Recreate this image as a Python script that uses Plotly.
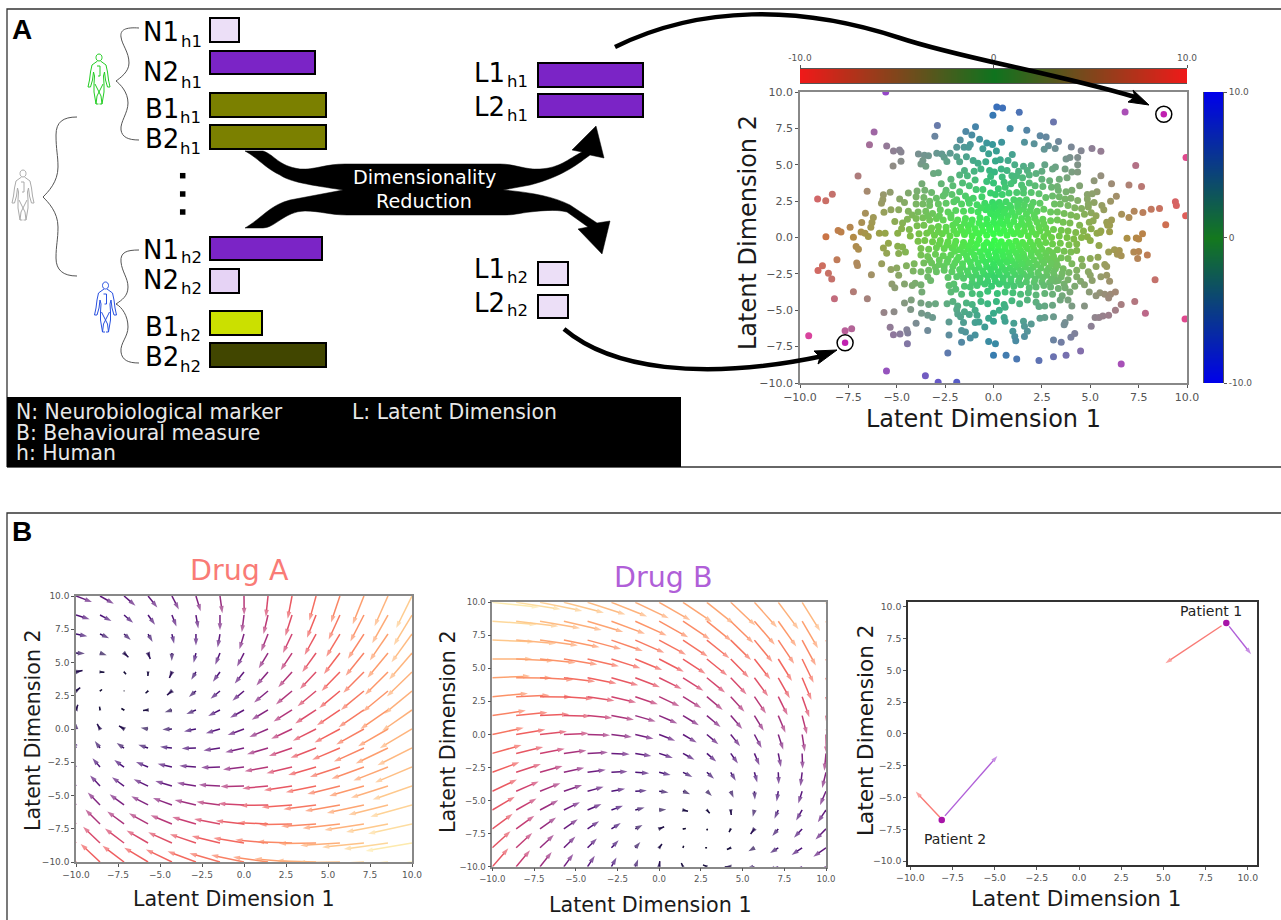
import plotly.graph_objects as go
from plotly.colors import sample_colorscale
import numpy as np

W, H = 1281, 920
FONT = "DejaVu Sans"

# ---------- Panel A: marker bars ----------
BAR_NAMES = ["N1", "N2", "B1", "B2", "N1", "N2", "B1", "B2"]
BAR_SUBS = ["h1", "h1", "h1", "h1", "h2", "h2", "h2", "h2"]
BAR_LENGTHS = [29, 105, 116, 116, 112, 29, 52, 116]
BAR_COLORS = ["#ecdff7", "#7b24c6", "#7b8000", "#7b8000", "#7b24c6", "#e6d3f5", "#cbe000", "#414600"]
LATENT_NAMES = ["L1", "L2", "L1", "L2"]
LATENT_SUBS = ["h1", "h1", "h2", "h2"]
LATENT_LENGTHS = [105, 105, 30, 30]
LATENT_COLORS = ["#7b24c6", "#7b24c6", "#ecdff7", "#ecdff7"]
LEGEND_LINES = ["N: Neurobiological marker", "B: Behavioural measure", "h: Human"]

# ---------- Panel A: latent scatter (x, y) ----------
LATENT_TOP = [(-5.57,10.0),(.17,8.97),(.47,8.9),(-.03,8.4),(1.33,8.6),(6.8,8.63),(3.1,7.94),(-2.9,7.7),(-.93,7.62),(.86,7.5),
 (1.72,7.37),(-1.43,7.28),(-1.12,7.05),(-3.03,6.96),(2.41,7.0),(2.72,6.91),(-1.72,6.7),(-.72,6.75),(-1.2,6.4),(-.35,6.5),
 (-.05,6.4),(.42,6.55),(3.36,6.6),(1.6,6.55),(2.1,6.45),(2.84,6.3),(3.19,6.11),(2.62,6.06),(4.02,6.22),(4.53,5.97),
 (5.09,6.11),(5.55,5.93),(-1.9,6.2),(-1.52,6.2),(-1.29,6.2),(-.55,6.1),(.15,5.95),(-.25,5.75),(.97,5.7),(-2.24,5.79),
 (-2.93,5.79),(-2.67,5.74),(-2.55,5.51),(-3.88,5.74),(-3.57,5.65),(-3.36,5.61),(-2.41,5.22),(-1.9,5.55),(-1.4,5.55)]
LATENT_UPPER = [(-1.75,5.2),(-1.05,5.3),(-.8,5.1),(-.4,5.2),(.1,5.25),(.35,5.35),(.75,5.3),(1.1,5.0),(1.55,4.9),(1.95,4.95),
 (2.65,5.0),(3.2,4.85),(3.05,4.7),(3.75,5.4),(3.95,5.5),(4.35,5.5),(4.35,5.0),(3.7,4.7),(4.05,4.5),(4.35,4.5),
 (-3.75,5.05),(-3.5,4.9),(-3.65,5.3),(-3.1,4.4),(-2.85,4.45),(-.2,4.6),(.05,4.5),(-.65,4.7),(-1.0,4.55),(-1.5,4.6),
 (-1.75,4.3),(-1.35,4.25),(-.95,3.95),(.4,4.7),(.7,4.6),(1.3,4.55),(1.75,4.6),(1.2,4.25),(1.5,4.1),(1.85,4.3),
 (1.05,3.9),(2.2,4.4),(2.5,4.55),(2.9,3.9),(3.4,4.0),(3.8,4.1),(-2.2,4.0),(-2.7,3.7),(-3.7,3.7),(-2.1,3.55),
 (-2.45,3.25),(-1.6,3.75),(-.35,3.85),(0,3.75),(.55,3.8),(.25,3.35),(.6,3.45),(-1.25,3.55),(-.9,3.3),(-.55,3.3),
 (1.45,3.6),(1.85,3.75),(2.15,3.55),(2.55,3.5),(3.0,3.45),(3.35,3.25),(3.75,3.15),(4.05,3.25),(4.45,3.55),(-3.2,3.1),
 (-3.55,3.25),(-3.95,3.2),(-4.4,3.05),(-4.0,2.8),(-3.6,2.75),(-2.95,2.7),(-2.6,2.85),(-2.15,2.95),(-1.75,3.15),(-1.45,2.85),
 (-1.05,2.7),(-.6,2.8),(-.15,3.05),(.1,2.95),(.45,2.95),(.8,3.05),(1.2,3.1),(1.55,3.05),(1.95,3.1),(2.35,3.0),
 (2.7,2.75),(3.05,2.85),(3.4,2.8),(3.7,2.65),(4.0,2.7),(4.35,2.55),(4.85,2.95),(4.85,2.65),(5.35,3.15),(5.2,2.4)]
LATENT_MIDDLE = [(-4.85,2.65),(-4.6,2.4),(-4.0,2.3),(-3.65,2.3),(-3.3,2.2),(-2.85,2.3),(-2.45,2.35),(-2.05,2.45),(-1.65,2.3),(-1.25,2.35),
 (-.85,2.25),(-.45,2.35),(-.05,2.4),(.3,2.4),(.65,2.45),(1.05,2.6),(1.35,2.55),(1.7,2.6),(2.05,2.4),(2.4,2.35),
 (3.15,2.3),(3.45,2.3),(3.85,2.2),(4.2,2.05),(4.55,2.0),(4.9,2.1),(5.05,1.7),(5.3,1.5),(-5.3,1.9),(-4.9,1.9),
 (-4.4,1.8),(-4.2,1.55),(-3.9,1.75),(-3.5,1.8),(-3.15,1.65),(-2.75,1.9),(-2.35,1.75),(-1.95,1.85),(-1.55,1.8),(-1.15,1.85),
 (-.8,1.75),(-.4,1.9),(-.05,1.95),(.3,1.9),(.6,1.95),(.9,2.05),(1.25,2.1),(1.55,1.95),(1.9,1.85),(2.25,1.8),
 (2.6,1.95),(2.95,1.75),(3.3,1.75),(3.65,1.65),(4.0,1.55),(4.3,1.45),(4.7,1.6),(-5.1,1.1),(-4.7,1.0),(-4.45,1.25),
 (-4.0,1.3),(-3.65,1.35),(-3.3,1.2),(-2.95,1.3),(-2.6,1.2),(-2.2,1.35),(-1.85,1.2),(-1.45,1.3),(-1.1,1.2),(-.7,1.35),
 (-.35,1.25),(.05,1.4),(.4,1.4),(.75,1.5),(1.1,1.45),(1.45,1.3),(1.8,1.25),(2.15,1.3),(2.55,1.25),(2.95,1.15),
 (3.3,1.2),(3.6,1.05),(3.95,1.0),(4.45,.85),(4.95,1.05),(5.15,1.15),(5.85,1.05),(5.9,.85),(-4.75,.6),(-4.95,.3),
 (-4.35,.55),(-3.95,.8),(-3.6,.85),(-3.2,.65),(-2.85,.75),(-2.45,.7),(-2.1,.85),(-1.7,.7),(-1.3,.75),(-.95,.6),
 (-.6,.8),(-.2,.7),(.15,.85),(.5,.9),(.85,.85),(1.25,.75),(1.6,.8),(1.95,.65),(2.35,.7),(2.7,.65),
 (3.1,.55),(3.5,.5),(3.85,.45),(4.25,.35),(4.65,.45),(5.05,.6),(5.35,.3),(5.55,.45),(6.0,.4),(-4.3,.1),
 (-3.85,.25),(-3.45,.3),(-3.05,.15),(-2.65,.25),(-2.25,.1),(-1.9,.25),(-1.5,.2),(-1.1,.1),(-.75,.25),(-.35,.15),
 (0,.25),(.35,.3),(.7,.15),(1.05,.25),(1.4,.2),(1.8,.1),(2.2,.2),(2.6,.05),(3.0,.0),(3.4,.1),
 (3.8,.0),(4.15,-.1),(4.55,.0),(4.85,.05),(5.0,-.2),(-3.9,-.25),(-3.55,-.2),(-3.15,-.3),(-2.75,-.2),(-2.35,-.3),
 (-1.95,-.25),(-1.55,-.35),(-1.15,-.3),(-.75,-.15),(-.35,-.35),(.05,-.2),(.4,-.3),(.8,-.35),(1.15,-.25),(1.5,-.35),
 (1.9,-.3),(2.3,-.25),(2.7,-.35),(3.05,-.45),(3.45,-.4),(3.9,-.5),(4.3,-.45),(-3.75,-.75),(-3.35,-.8),(-2.95,-.7),
 (-2.55,-.75),(-2.15,-.7),(-1.75,-.85),(-1.3,-.8),(-.95,-.7),(-.5,-.8),(-.1,-.7),(.25,-.85),(.6,-.75),(1.0,-.85),
 (1.4,-.9),(1.75,-.75),(2.1,-.85),(2.5,-.8),(2.85,-.9),(3.3,-.85),(3.65,-.95),(4.0,-1.0),(4.3,-.9),(5.45,-.55),
 (5.95,-1.0),(6.25,-.85),(6.4,-1.15)]
LATENT_LOWER = [(-3.75,-1.2),(-3.4,-1.3),(-3.0,-1.15),(-2.6,-1.25),(-2.2,-1.2),(-1.8,-1.35),(-1.4,-1.25),(-1.0,-1.2),(-.6,-1.3),(-.25,-1.2),
 (.15,-1.3),(.5,-1.25),(.85,-1.35),(1.25,-1.3),(1.6,-1.4),(1.95,-1.25),(2.4,-1.3),(2.75,-1.35),(3.1,-1.3),(3.5,-1.4),
 (3.85,-1.45),(4.55,-1.5),(5.0,-1.45),(5.4,-1.35),(5.75,-1.85),(-4.5,-1.95),(-4.1,-1.8),(-3.6,-1.75),(-3.2,-1.75),(-2.8,-1.85),
 (-2.4,-1.7),(-2.0,-1.75),(-1.6,-1.8),(-1.2,-1.7),(-.8,-1.75),(-.4,-1.7),(0,-1.85),(.35,-1.75),(.7,-1.7),(1.1,-1.85),
 (1.45,-1.8),(1.85,-1.75),(2.25,-1.85),(2.6,-1.75),(3.0,-1.8),(3.3,-1.9),(4.05,-1.8),(4.6,-1.95),(5.3,-2.0),(-4.15,-2.3),
 (-3.75,-2.35),(-3.35,-2.25),(-2.95,-2.35),(-2.55,-2.25),(-2.15,-2.35),(-1.75,-2.2),(-1.35,-2.3),(-.95,-2.25),(-.55,-2.3),(-.15,-2.2),
 (.25,-2.35),(.6,-2.25),(1.0,-2.3),(1.4,-2.3),(1.9,-2.25),(2.3,-2.4),(2.75,-2.3),(3.1,-2.4),(3.55,-2.45),(3.9,-2.4),
 (4.3,-2.25),(4.9,-2.35),(5.0,-2.6),(5.55,-2.7),(5.85,-2.6),(-3.4,-2.7),(-3.25,-2.95),(-2.35,-2.75),(-1.9,-2.7),(-1.55,-2.8),
 (-1.1,-2.75),(-.7,-2.8),(-.3,-2.65),(.05,-2.75),(.5,-2.8),(.9,-2.85),(1.35,-2.75),(1.75,-2.7),(2.15,-2.85),(2.55,-2.75),
 (3.0,-2.85),(3.35,-2.95),(3.85,-2.9),(4.5,-3.0),(5.1,-2.95),(-5.25,-3.2),(-5.1,-3.45),(-4.6,-3.2),(-4.2,-3.3),(-4.05,-3.15),
 (-3.75,-3.25),(-3.7,-3.75),(-2.3,-3.3),(-2.05,-3.2),(-1.95,-3.55),(-1.5,-3.35),(-1.2,-3.4),(-.85,-3.3),(-.45,-3.2),(-.1,-3.35),
 (.3,-3.2),(.7,-3.3),(1.05,-3.35),(1.4,-3.25),(1.85,-3.45),(2.2,-3.4),(2.6,-3.3),(2.95,-3.4),(3.35,-3.5),(3.7,-3.45),
 (4.2,-3.35),(4.7,-3.25),(-2.2,-3.75),(-1.65,-3.9),(-1.1,-3.85),(-.7,-3.9),(-.3,-3.7),(.2,-3.85),(.6,-3.75),(1.0,-3.8),
 (1.4,-3.9),(1.8,-3.8),(2.2,-3.95),(2.65,-3.85),(3.05,-3.9),(3.55,-4.0),(3.95,-3.75),(4.95,-3.75),(5.3,-4.0),(5.5,-3.8),
 (5.75,-3.9),(6.05,-3.9),(6.3,-3.75),(5.95,-4.15),(-4.6,-4.5),(-4.25,-4.3),(-3.75,-4.5),(-3.35,-4.6),(-3.0,-4.55),(-2.4,-4.55),
 (-2.1,-4.4),(-1.85,-4.7),(-1.4,-4.5),(-1.1,-4.6),(-.65,-4.4),(-.3,-4.55),(.15,-4.4),(.55,-4.6),(.95,-4.35),(1.35,-4.55),
 (1.75,-4.3),(2.2,-4.45),(2.35,-4.75),(2.65,-4.7),(3.05,-4.65),(3.45,-4.3),(3.85,-4.3),(4.05,-4.7),(4.7,-4.7)]
LATENT_BOTTOM = [(-5.66,-5.15),(-5.14,-5.1),(-4.28,-4.95),(-3.72,-5.2),(-3.4,-5.35),(-3.15,-5.5),(-1.9,-4.95),(-1.85,-5.25),(-1.7,-5.45),(-1.5,-5.1),
 (-1.25,-5.3),(-.95,-5.0),(-.85,-5.35),(.0,-5.2),(.3,-5.0),(.6,-4.8),(-.25,-5.55),(.55,-5.5),(.6,-5.75),(1.05,-5.9),
 (1.55,-5.75),(1.6,-6.1),(1.95,-5.95),(2.4,-5.55),(2.65,-5.5),(3.1,-5.45),(3.95,-5.5),(3.7,-5.85),(3.65,-6.0),(-4.0,-5.9),
 (-2.3,-5.8),(-1.55,-5.85),(-.95,-5.85),(-.75,-5.8),(-.45,-6.15),(.0,-5.75),(1.0,-6.45),(1.75,-6.45),(1.6,-6.8),(1.1,-6.8),
 (1.15,-7.1),(5.05,-6.1),(5.25,-5.5),(5.45,-5.5),(5.65,-5.4),(5.95,-5.35),(6.3,-5.0),(6.6,-4.6),(7.3,-4.4),(7.85,-5.2),
 (9.9,-5.6),(8.35,-2.9),(3.1,-7.05),(3.5,-7.2),(4.0,-6.85),(4.2,-6.6),(3.1,-8.2),(3.75,-8.1),(4.5,-7.8),(6.6,-8.7),
 (-.25,-7.15),(.1,-7.3),(0,-8.1),(.65,-8.1),(1.2,-8.35),(2.35,-8.45),(-1.65,-7.2),(-1.2,-6.9),(-.95,-6.7),(-1.45,-6.5),
 (-1.65,-6.4),(-2.3,-6.7),(-3.4,-6.4),(-2.36,-7.94),(-1.9,-9.95),(-2.86,-9.95),(-3.52,-9.5),(-5.53,-9.18),(-4.45,-7.3),(-4.43,-6.57),
 (-4.48,-6.34),(-4.83,-6.64),(-5.17,-6.68),(-5.34,-6.16),(-7.33,-6.27),(-7.67,-6.41),(-9.55,-6.75)]
LATENT_LEFT = [(-9.09,2.65),(-8.67,2.52),(-8.33,2.97),(-7.0,4.23),(-6.53,3.18),(-5.79,2.36),(-5.69,2.93),(-5.72,2.59),(-5.34,3.11),(-5.66,1.74),
 (-6.62,1.67),(-6.81,1.03),(-6.21,1.37),(-6.28,1.03),(-6.34,.71),(-7.41,.71),(-8.03,.48),(-7.88,.37),(-8.66,.05),(-6.84,.37),
 (-6.64,.3),(-6.47,.07),(-7.24,.02),(-7.1,-.62),(-6.98,-.8),(-5.9,.3),(-5.6,.3),(-5.43,-.39),(-5.69,-.73),(-5.52,-1.08),
 (-7.07,-1.76),(-7.03,-1.92),(-5.78,-1.81),(-8.09,-1.53),(-8.84,-1.95),(-9.07,-2.27),(-8.53,-2.45),(-8.36,-2.86),(-6.31,-2.56),(-7.24,-3.73),
 (-8.22,-4.21),(-6.52,-4.21),(-6.17,7.25),(-6.41,6.38),(-5.52,6.29),(-5.17,5.95),(-4.86,6.02),(-4.78,5.88),(-5.19,4.92),(-4.78,5.24),
 (-4.95,-.6),(-4.7,-.65),(-4.9,-1.1),(-4.55,-1.0),(-5.3,-2.2),(-5.0,-2.1),(-4.9,-2.6)]
LATENT_RIGHT = [(9.93,1.5),(8.9,.87),(8.58,2.0),(8.15,1.95),(9.4,2.45),(9.45,2.2),(7.72,1.72),(7.27,1.8),(7.0,1.38),(6.9,-.05),
 (6.35,2.83),(6.1,3.7),(7.0,3.6),(7.65,3.5),(7.35,4.95),(5.55,4.25),(5.2,3.9),(9.95,5.5),(7.38,-.03),(7.7,.25),
 (5.5,.35),(6.0,.85),(6.1,1.2),(6.5,-.9),(6.6,-1.25),(7.25,-1.0),(7.5,-.97),(7.45,-1.45),(7.95,-1.2),(5.85,-2.0),
 (6.05,2.5),(6.62,1.6),(5.7,1.9),(5.6,2.2),(4.9,2.3),(5.1,3.0),(7.5,-.1),(6.0,-3.0)]
LATENT_CORE = [(-.2,.55),(.2,.6),(.55,.5),(.9,.45),(1.25,.4),(-.55,.45),(-.9,.35),(-1.3,.45),(-1.65,.5),(-2.05,.5),(-2.45,.45),(-2.85,.4),(-3.25,.45),(1.6,.45),(2.0,.4),(2.4,.45),(2.8,.3),
 (-.1,-.5),(.25,-.55),(.6,-.55),(.95,-.6),(-.5,-.55),(-.85,-.45),(-1.25,-.55),(-1.6,-.6),(-2.0,-.5),(-2.4,-.5),(-2.8,-.45),(1.3,-.6),(1.65,-.55),(2.05,-.55),(2.4,-.5),
 (.0,1.05),(.35,1.05),(.7,1.15),(1.05,1.1),(-.35,.95),(-.75,1.0),(-1.15,.95),(-1.5,1.0),(-1.95,1.0),(1.45,1.0),(1.85,.95),(2.25,1.05),(2.6,.95),
 (.1,-1.05),(.45,-1.0),(.8,-1.05),(1.15,-1.05),(-.3,-1.0),(-.7,-1.0),(-1.15,-1.0),(-1.55,-1.05),(-2.0,-.95),(1.55,-1.15),(1.95,-1.05),(2.3,-1.05),(2.7,-1.1),(3.05,-1.05),
 (.2,-1.55),(.55,-1.5),(.95,-1.6),(1.3,-1.55),(1.7,-1.6),(-.15,-1.5),(-.55,-1.55),(-.95,-1.45),(-1.35,-1.5),(2.1,-1.55),(2.5,-1.55),(2.9,-1.55),(3.25,-1.6),
 (.45,-2.05),(.85,-2.1),(1.25,-2.05),(1.65,-2.05),(2.05,-2.05),(2.45,-2.1),(2.85,-2.1),(3.2,-2.15),(3.6,-2.15),(.05,-2.05),(-.35,-2.0),(-.75,-2.05),(-1.15,-2.0),
 (.7,-2.55),(1.1,-2.55),(1.55,-2.5),(1.95,-2.55),(2.35,-2.6),(2.75,-2.6),(3.15,-2.65),(.3,-2.55),(-.1,-2.5),(-.5,-2.5),(-.9,-2.55),(-1.3,-2.55),(-1.7,-2.5),
 (.9,-3.05),(1.3,-3.0),(1.7,-3.05),(2.1,-3.1),(2.5,-3.05),(2.9,-3.1),(.5,-3.05),(.1,-3.0),(-.3,-3.0),(-.7,-3.05),(-1.1,-3.1),
 (.4,2.15),(.85,2.2),(1.25,2.3),(1.6,2.25),(.05,2.15),(-.3,2.1),(-.65,2.05),(1.95,2.15),
 (.55,1.7),(.95,1.75),(1.3,1.75),(-.15,1.65),(.2,1.65),(1.7,1.6),(2.1,1.55),
 (-2.5,3.0),(-1.9,2.6),(-1.3,2.6),(-3.3,2.5),(-2.2,1.55),(-2.8,1.5),(-3.4,1.5),
 (.9,3.7),(1.55,3.35),(.95,4.25),(.45,4.15),(-.15,4.2),(3.3,3.5),(2.5,4.0),
 (-2.8,-1.55),(-3.3,-1.55),(-2.35,-1.5),(-1.9,-1.55),(-3.0,-2.05),(-2.55,-2.0),(-2.1,-2.0),(-1.6,-2.05),(4.3,-2.7),(3.65,-3.2),(3.2,-3.0),(3.5,-2.7)]
HIGHLIGHT_X = [8.8, -7.67]
HIGHLIGHT_Y = [8.47, -7.24]
COLORBAR_TICKS = [-10, 0, 10]
COLORBAR_TEXT = ["-10.0", "0", "10.0"]
GRADIENT_STOPS = [-10, -7.5, -5, -2.5, 0, 2.5, 5, 7.5, 10]

# ---------- Panel B: vector fields, tails on a 15 x 15 grid (rows bottom to top) ----------
GRID = [-10, -8.57, -7.14, -5.71, -4.29, -2.86, -1.43, 0, 1.43, 2.86, 4.29, 5.71, 7.14, 8.57, 10]
DRUG_A_U = [
 [-1.01,-1.15,-1.28,-1.42,-1.55,-1.69,-1.82,-1.96,-2.09,-2.23,-2.36,-2.50,-2.63,-2.77,-2.90],
 [-.87,-1.01,-1.14,-1.28,-1.41,-1.55,-1.68,-1.82,-1.95,-2.09,-2.22,-2.36,-2.49,-2.63,-2.76],
 [-.73,-.87,-1.00,-1.14,-1.27,-1.41,-1.54,-1.68,-1.81,-1.95,-2.08,-2.22,-2.35,-2.49,-2.62],
 [-.59,-.73,-.86,-1.00,-1.13,-1.27,-1.40,-1.54,-1.67,-1.81,-1.94,-2.08,-2.21,-2.35,-2.48],
 [-.45,-.59,-.72,-.86,-.99,-1.13,-1.26,-1.40,-1.53,-1.67,-1.80,-1.94,-2.07,-2.21,-2.34],
 [-.31,-.45,-.58,-.72,-.85,-.99,-1.12,-1.25,-1.39,-1.52,-1.66,-1.79,-1.93,-2.06,-2.20],
 [-.17,-.31,-.44,-.58,-.71,-.85,-.98,-1.11,-1.25,-1.38,-1.52,-1.65,-1.79,-1.92,-2.06],
 [-.03,-.17,-.30,-.44,-.57,-.71,-.84,-.97,-1.11,-1.24,-1.38,-1.51,-1.65,-1.78,-1.92],
 [.11,-.03,-.16,-.30,-.43,-.57,-.70,-.83,-.97,-1.10,-1.24,-1.37,-1.51,-1.64,-1.78],
 [.25,.12,-.02,-.15,-.29,-.42,-.56,-.69,-.83,-.96,-1.10,-1.23,-1.37,-1.50,-1.64],
 [.39,.26,.12,-.01,-.15,-.28,-.42,-.55,-.69,-.82,-.96,-1.09,-1.23,-1.36,-1.50],
 [.53,.40,.26,.13,-.01,-.14,-.28,-.41,-.55,-.68,-.82,-.95,-1.09,-1.22,-1.36],
 [.67,.54,.40,.27,.13,.00,-.14,-.27,-.41,-.54,-.68,-.81,-.95,-1.08,-1.22],
 [.81,.68,.54,.41,.27,.14,.00,-.13,-.27,-.40,-.54,-.67,-.81,-.94,-1.08],
 [.95,.82,.68,.55,.41,.28,.14,.01,-.13,-.26,-.40,-.53,-.67,-.80,-.94]]
DRUG_A_V = [
 [1.50,1.36,1.22,1.08,.94,.80,.66,.52,.38,.24,.10,-.04,-.18,-.32,-.46],
 [1.36,1.22,1.08,.94,.80,.66,.52,.38,.24,.10,-.04,-.18,-.32,-.46,-.60],
 [1.22,1.08,.94,.80,.66,.52,.38,.24,.10,-.04,-.18,-.32,-.46,-.60,-.74],
 [1.08,.94,.80,.66,.52,.38,.24,.10,-.04,-.18,-.32,-.46,-.60,-.74,-.88],
 [.94,.80,.66,.52,.38,.24,.10,-.04,-.18,-.32,-.46,-.60,-.74,-.88,-1.02],
 [.80,.66,.52,.38,.24,.10,-.04,-.18,-.32,-.46,-.60,-.74,-.88,-1.02,-1.16],
 [.66,.52,.38,.24,.10,-.04,-.18,-.32,-.46,-.60,-.74,-.88,-1.02,-1.16,-1.30],
 [.52,.38,.24,.10,-.04,-.18,-.32,-.46,-.60,-.74,-.88,-1.02,-1.16,-1.30,-1.44],
 [.39,.25,.11,-.03,-.17,-.31,-.45,-.59,-.73,-.87,-1.01,-1.15,-1.29,-1.43,-1.57],
 [.25,.11,-.03,-.17,-.31,-.45,-.59,-.73,-.87,-1.01,-1.15,-1.29,-1.43,-1.57,-1.71],
 [.11,-.03,-.17,-.31,-.45,-.59,-.73,-.87,-1.01,-1.15,-1.29,-1.43,-1.57,-1.71,-1.85],
 [-.03,-.17,-.31,-.45,-.59,-.73,-.87,-1.01,-1.15,-1.29,-1.43,-1.57,-1.71,-1.85,-1.99],
 [-.17,-.31,-.45,-.59,-.73,-.87,-1.01,-1.15,-1.29,-1.43,-1.57,-1.71,-1.85,-1.99,-2.13],
 [-.31,-.45,-.59,-.73,-.87,-1.01,-1.15,-1.29,-1.43,-1.57,-1.71,-1.85,-1.99,-2.13,-2.27],
 [-.45,-.59,-.73,-.87,-1.01,-1.15,-1.29,-1.43,-1.57,-1.71,-1.85,-1.99,-2.13,-2.27,-2.41]]
DRUG_B_U = [
 [.96,.83,.70,.56,.43,.30,.17,.04,-.10,-.23,-.36,-.49,-.62,-.76,-.89],
 [1.09,.96,.83,.69,.56,.43,.30,.17,.04,-.10,-.23,-.36,-.49,-.63,-.76],
 [1.22,1.09,.96,.83,.69,.56,.43,.30,.17,.04,-.10,-.23,-.36,-.49,-.63],
 [1.35,1.22,1.09,.96,.83,.69,.56,.43,.30,.17,.03,-.10,-.23,-.36,-.49],
 [1.48,1.35,1.22,1.09,.96,.82,.69,.56,.43,.30,.17,.03,-.10,-.23,-.36],
 [1.62,1.48,1.35,1.22,1.09,.96,.83,.69,.56,.43,.30,.17,.03,-.10,-.23],
 [1.75,1.62,1.48,1.35,1.22,1.09,.96,.82,.69,.56,.43,.30,.16,.03,-.10],
 [1.88,1.75,1.61,1.48,1.35,1.22,1.09,.96,.82,.69,.56,.43,.30,.16,.03],
 [2.01,1.88,1.75,1.61,1.48,1.35,1.22,1.09,.95,.82,.69,.56,.43,.29,.16],
 [2.14,2.01,1.88,1.75,1.61,1.48,1.35,1.22,1.09,.95,.82,.69,.56,.43,.29],
 [2.27,2.14,2.01,1.88,1.74,1.61,1.48,1.35,1.22,1.09,.95,.82,.69,.56,.43],
 [2.40,2.27,2.14,2.01,1.88,1.74,1.61,1.48,1.35,1.22,1.08,.95,.82,.69,.56],
 [2.54,2.40,2.27,2.14,2.01,1.88,1.74,1.61,1.48,1.35,1.22,1.08,.95,.82,.69],
 [2.67,2.53,2.40,2.27,2.14,2.01,1.88,1.74,1.61,1.48,1.35,1.22,1.08,.95,.82],
 [2.80,2.67,2.53,2.40,2.27,2.14,2.01,1.87,1.74,1.61,1.48,1.35,1.21,1.08,.95]]
DRUG_B_V = [
 [1.39,1.25,1.11,.97,.83,.69,.56,.42,.28,.14,.00,-.14,-.28,-.42,-.56],
 [1.26,1.12,.98,.85,.71,.57,.43,.29,.15,.01,-.13,-.27,-.40,-.54,-.68],
 [1.14,1.00,.86,.72,.58,.44,.30,.16,.03,-.11,-.25,-.39,-.53,-.67,-.81],
 [1.01,.87,.73,.59,.45,.32,.18,.04,-.10,-.24,-.38,-.52,-.66,-.79,-.93],
 [.88,.74,.61,.47,.33,.19,.05,-.09,-.23,-.37,-.50,-.64,-.78,-.92,-1.06],
 [.76,.62,.48,.34,.20,.06,-.08,-.21,-.35,-.49,-.63,-.77,-.91,-1.05,-1.19],
 [.63,.49,.35,.22,.08,-.06,-.20,-.34,-.48,-.62,-.76,-.90,-1.03,-1.17,-1.31],
 [.51,.37,.23,.09,-.05,-.19,-.33,-.47,-.61,-.74,-.88,-1.02,-1.16,-1.30,-1.44],
 [.38,.24,.10,-.04,-.18,-.32,-.45,-.59,-.73,-.87,-1.01,-1.15,-1.29,-1.42,-1.56],
 [.25,.11,-.02,-.16,-.30,-.44,-.58,-.72,-.86,-1.00,-1.13,-1.27,-1.41,-1.55,-1.69],
 [.13,-.01,-.15,-.29,-.43,-.57,-.71,-.84,-.98,-1.12,-1.26,-1.40,-1.54,-1.68,-1.82],
 [.00,-.14,-.28,-.42,-.55,-.69,-.83,-.97,-1.11,-1.25,-1.39,-1.53,-1.66,-1.80,-1.94],
 [-.13,-.26,-.40,-.54,-.68,-.82,-.96,-1.10,-1.24,-1.37,-1.51,-1.65,-1.79,-1.93,-2.07],
 [-.25,-.39,-.53,-.67,-.81,-.95,-1.08,-1.22,-1.36,-1.50,-1.64,-1.78,-1.92,-2.05,-2.19],
 [-.38,-.52,-.65,-.79,-.93,-1.07,-1.21,-1.35,-1.49,-1.63,-1.76,-1.90,-2.04,-2.18,-2.32]]

# magnitude -> position on the Magma scale, matched by eye to the reference arrows
MAG_STOPS = [0, 1.07, 1.64, 2.5, 2.9]
MAGMA_STOPS = [0.05, 0.30, 0.62, 0.87, 0.98]

# ---------- Panel B: patients ----------
PATIENT_X = [8.73, -8.14]
PATIENT_Y = [8.71, -6.77]
PATIENT_NAMES = ["Patient 1", "Patient 2"]
PATIENT_LABEL_X = [7.85, -7.37]
PATIENT_LABEL_Y = [9.63, -8.27]
DRUG_A_COLOR = "#f97b76"
DRUG_B_COLOR = "#b05fd8"
PATIENT_ARROWS = [  # start x, start y, end x, end y, colour
    (8.45, 8.5, 5.12, 5.56, DRUG_A_COLOR),
    (8.9, 8.45, 10.2, 6.27, DRUG_B_COLOR),
    (-8.25, -6.55, -9.68, -4.54, DRUG_A_COLOR),
    (-7.95, -6.45, -4.84, -1.73, DRUG_B_COLOR),
]

# ---------- layout boxes (page pixels: left, right, top, bottom) ----------
BOX_SCATTER = (800, 1187, 92, 383)
BOX_TOPBAR = (800, 1187, 69, 83)
BOX_SIDEBAR = (1204, 1223, 92, 383)
BOX_A = (76, 412, 596, 862)
BOX_B = (492.3, 826, 602.3, 866.7)
BOX_P = (908, 1257, 602, 865)


def dom_x(b):
    return [b[0] / W, b[1] / W]


def dom_y(b):
    return [1 - b[3] / H, 1 - b[2] / H]


def plot_axis(domain, rng, anchor, size, line):
    return dict(domain=domain, range=rng, anchor=anchor, tick0=-10, dtick=2.5, tickmode="linear", automargin=False,
                tickformat=".1f", tickangle=0, ticks="outside", ticklen=3, tickwidth=1, tickcolor="#555",
                tickfont=dict(family=FONT, size=size, color="#555"), showgrid=False, zeroline=False,
                showline=True, mirror=True, linecolor=line, linewidth=1.5)


fig = go.Figure()

# page axes carry the schematic bars
fig.add_trace(go.Bar(orientation="h", y=[30, 62.5, 105, 137, 248.5, 281, 323, 355], x=BAR_LENGTHS, base=210,
                     width=[24, 23, 24, 24, 23, 24, 24, 24], marker=dict(color=BAR_COLORS, line=dict(color="black", width=2)),
                     xaxis="x", yaxis="y", hoverinfo="skip", showlegend=False))
fig.add_trace(go.Bar(orientation="h", y=[75, 105.5, 273.5, 306.5], x=LATENT_LENGTHS, base=538,
                     width=[24, 23, 23, 23], marker=dict(color=LATENT_COLORS, line=dict(color="black", width=2)),
                     xaxis="x", yaxis="y", hoverinfo="skip", showlegend=False))
fig.add_trace(go.Scatter(x=[182.7, 182.7, 182.7], y=[175.7, 194, 212], mode="markers",
                         marker=dict(symbol="square", size=5.5, color="black"),
                         xaxis="x", yaxis="y", hoverinfo="skip", showlegend=False))

# latent scatter
points = LATENT_TOP + LATENT_UPPER + LATENT_MIDDLE + LATENT_CORE + LATENT_LOWER + LATENT_BOTTOM + LATENT_LEFT + LATENT_RIGHT


def point_color(x, y):
    d = (x * x + y * y) ** 0.5
    return "rgb(%d,%d,%d)" % (55 + abs(x) * 17, max(30, 255 - 16 * d), 70 + abs(y) * 13)


fig.add_trace(go.Scatter(x=[p[0] for p in points], y=[p[1] for p in points], mode="markers",
                         marker=dict(size=7, color=[point_color(*p) for p in points]),
                         xaxis="x2", yaxis="y2", hoverinfo="skip", showlegend=False))
fig.add_trace(go.Scatter(x=HIGHLIGHT_X, y=HIGHLIGHT_Y, mode="markers",
                         marker=dict(size=6.5, color="#c020b0"), xaxis="x2", yaxis="y2",
                         hoverinfo="skip", showlegend=False))
fig.add_trace(go.Scatter(x=HIGHLIGHT_X, y=HIGHLIGHT_Y, mode="markers",
                         marker=dict(size=16, color="rgba(0,0,0,0)", line=dict(color="black", width=1.5)),
                         xaxis="x2", yaxis="y2", hoverinfo="skip", showlegend=False))

# colour bars
fig.add_trace(go.Heatmap(x=GRADIENT_STOPS, y=[0, 1], z=[GRADIENT_STOPS, GRADIENT_STOPS], zsmooth="best", showscale=False,
                         zmin=-10, zmax=10, hoverinfo="skip", xaxis="x3", yaxis="y3",
                         colorscale=[[0, "rgb(240,25,25)"], [0.5, "rgb(15,115,30)"], [1, "rgb(240,25,25)"]]))
fig.add_trace(go.Heatmap(y=GRADIENT_STOPS, x=[0, 1], z=[[g, g] for g in GRADIENT_STOPS], zsmooth="best", showscale=False,
                         zmin=-10, zmax=10, hoverinfo="skip", xaxis="x4", yaxis="y4",
                         colorscale=[[0, "rgb(0,0,235)"], [0.5, "rgb(20,120,30)"], [1, "rgb(0,0,235)"]]))


def add_quiver(U, V, xa, ya, box, rng=20.0):
    pxx = (box[1] - box[0]) / rng
    pxy = (box[3] - box[2]) / rng
    for j, (ru, rv) in enumerate(zip(U, V)):
        for i, (u, v) in enumerate(zip(ru, rv)):
            mag = (u * u + v * v) ** 0.5
            col = sample_colorscale("Magma", [float(np.interp(mag, MAG_STOPS, MAGMA_STOPS))])[0]
            length = ((u * pxx) ** 2 + (v * pxy) ** 2) ** 0.5
            head = min(7.5, max(1.5, length * 1.2))
            fig.add_trace(go.Scatter(
                x=[GRID[i], GRID[i] + u], y=[GRID[j], GRID[j] + v], mode="lines+markers",
                line=dict(color=col, width=1.5),
                marker=dict(symbol="arrow", size=[0, head], color=col, angleref="previous", line=dict(width=0)),
                xaxis=xa, yaxis=ya, hoverinfo="skip", showlegend=False))


add_quiver(DRUG_A_U, DRUG_A_V, "x5", "y5", BOX_A)
add_quiver(DRUG_B_U, DRUG_B_V, "x6", "y6", BOX_B)

# patient panel
for sx, sy, ex, ey, col in PATIENT_ARROWS:
    fig.add_trace(go.Scatter(x=[sx, ex], y=[sy, ey], mode="lines+markers", line=dict(color=col, width=1.4),
                             marker=dict(symbol="arrow", size=[0, 7], color=col, angleref="previous", line=dict(width=0)),
                             xaxis="x7", yaxis="y7", hoverinfo="skip", showlegend=False))
fig.add_trace(go.Scatter(x=PATIENT_X, y=PATIENT_Y, mode="markers", marker=dict(size=6.5, color="#a815a8"),
                         xaxis="x7", yaxis="y7", hoverinfo="skip", showlegend=False))

# ---------- schematic shapes ----------
shapes = []


def path_shape(d, fill=None, line="black", width=1):
    s = dict(type="path", path=d, xref="x", yref="y", layer="above",
             line=dict(color=line, width=width))
    if fill:
        s["fillcolor"] = fill
    shapes.append(s)


for d in ["M7,467 L7,9 L1290,9", "M1290,467 L7,467", "M1290,513 L7,513 L7,930"]:
    path_shape(d, line="#333", width=1.3)
shapes.append(dict(type="rect", x0=7, x1=681, y0=397, y1=467, xref="x", yref="y", layer="above",
                   fillcolor="black", line=dict(width=0)))
RIBBON = ("M245,151 L263,151 C275,155 278,166 300,169 C315,170 325,164 345,164 L500,164 C515,164 525,170 540,169 "
          "C560,168 568,159 582,152 L572,150 L596,126 L604,158 L590,155 C580,162 565,176 530,185 L503,190 "
          "C530,192 555,197 570,205 L597,223 L610,221 L602,254 L578,229 L588,227 L567,212 C555,209 540,211 530,212 "
          "C520,213 515,215 505,215 L347,215 C330,215 320,211 305,211 C285,211 275,228 263,228 L245,228 "
          "C262,218 270,205 290,200 L343,190 C310,185 290,182 280,175 C265,168 258,158 245,151 Z")
path_shape(RIBBON, fill="black", width=0.5)
path_shape("M615,47 C700,5 800,5 900,38 C960,58 1050,72 1135,97", line="black", width=4.5)
path_shape("M1149,105 L1133,90 L1135,97 L1128,102 Z", fill="black", width=1)
path_shape("M564,329 C610,368 700,382 823,356", line="black", width=4.5)
path_shape("M837,350 L814,351 L820,357 L818,364 Z", fill="black", width=1)
for d in ["M77,117 C63,117 56,122 56,135 C56,150 58,155 58,167 C58,182 48,192 43,197 C48,202 58,212 58,227 C58,240 56,245 56,258 C56,270 63,276 77,276",
          "M139,28 C125,27 120,30 121,37 C122,45 129,52 129,63 C129,72 120,78 116,81 C120,84 128,92 128,103 C128,113 120,122 121,130 C122,137 128,140 139,140",
          "M139,250 C127,250 120,252 121,262 C122,272 128,278 128,287 C128,296 122,300 116,304 C122,307 128,316 128,327 C128,337 120,343 121,352 C122,360 128,363 139,363"]:
    path_shape(d, line="#555", width=1)


def human(cx, top, color):
    p = lambda dx, dy: "%.1f,%.1f" % (cx + dx, top + dy)
    parts = []
    parts.append("M%s C%s %s %s C%s %s %s Z" % (p(0, 0), p(4, 0), p(4, 7), p(0, 7), p(-4, 7), p(-4, 0), p(0, 0)))
    for s in (-1, 1):
        parts.append("M%s L%s L%s L%s L%s L%s L%s L%s L%s L%s L%s L%s L%s" % (
            p(s * 1.5, 7), p(s * 7, 11), p(s * 8.5, 18), p(s * 9.5, 26), p(s * 11, 33), p(s * 8.5, 33),
            p(s * 6.5, 26), p(s * 5.5, 18), p(s * 4.5, 22), p(s * 5, 30), p(s * 5, 38), p(s * 3, 50), p(s * 0.5, 50)))
        parts.append("M%s L%s L%s" % (p(s * 4, 30), p(-s * 2, 42), p(-s * 3, 50)))
    parts.append("M%s L%s L%s L%s" % (p(-2, 12), p(1, 12), p(1, 22), p(-1, 22)))
    path_shape(" ".join(parts), line=color, width=1)


human(99, 54, "#22cc22")
human(23, 170, "#aaaaaa")
human(105.5, 282, "#2850e0")

# ---------- text ----------
ann = []


def page_text(text, x, y, size, color="black", anchor="left", family=FONT, bold=False, angle=0):
    ann.append(dict(text="<b>%s</b>" % text if bold else text, x=x, y=y, xref="x", yref="y", xanchor=anchor,
                    yanchor="middle", showarrow=False, textangle=angle, font=dict(family=family, size=size, color=color)))


page_text("A", 10, 29, 28, family="Liberation Sans", bold=True)
page_text("B", 10, 531, 28, family="Liberation Sans", bold=True)
for name, sub, x, sx, y, sy in zip(BAR_NAMES, BAR_SUBS, [141, 141, 142.5, 142.5, 141, 141, 142.5, 142.5],
                                   [179, 179, 178, 178, 179, 179, 178, 178],
                                   [32, 72, 109, 139, 250, 280, 327, 357], [41, 82, 117, 148, 257, 288, 335, 366]):
    page_text(name, x, y, 26)
    page_text(sub, sx, sy, 16.5)
for name, sub, y, sy in zip(LATENT_NAMES, LATENT_SUBS, [73, 107, 269, 303], [81, 115, 277, 310]):
    page_text(name, 472, y, 26)
    page_text(sub, 505, sy, 16.5)
page_text("Dimensionality", 424, 177, 19.2, "white", "center")
page_text("Reduction", 424, 201, 19.2, "white", "center")
for line, y in zip(LEGEND_LINES, [412, 433, 453]):
    page_text(line, 14, y, 20.4, "#e8e8e8")
page_text("L: Latent Dimension", 350, 412, 20.4, "#e8e8e8")
page_text("Drug A", 239, 570, 28.5, DRUG_A_COLOR, "center")
page_text("Drug B", 663, 577, 28.5, DRUG_B_COLOR, "center")
for name, x, y in zip(PATIENT_NAMES, PATIENT_LABEL_X, PATIENT_LABEL_Y):
    ann.append(dict(text=name, x=x, y=y, xref="x7", yref="y7", showarrow=False,
                    font=dict(family=FONT, size=14, color="#222")))
XT, YT = "Latent Dimension 1", "Latent Dimension 2"
for x, y, size in [(748, 233, 24), (33, 730, 20.6), (448, 732, 20.7), (865, 731, 21.6)]:
    page_text(YT, x, y, size, "#1a1a1a", "center", angle=-90)
for x, y, size in [(983.5, 419, 24), (234, 899, 20.6), (650.5, 905, 20.7), (1076, 898, 21.5)]:
    page_text(XT, x, y, size, "#1a1a1a", "center")

fig.update_layout(
    width=W, height=H, margin=dict(l=0, r=0, t=0, b=0, autoexpand=False), paper_bgcolor="white", plot_bgcolor="white",
    showlegend=False, shapes=shapes, annotations=ann, bargap=0,
    xaxis=dict(domain=[0, 1], range=[0, W], visible=False, anchor="y", automargin=False),
    yaxis=dict(domain=[0, 1], range=[H, 0], visible=False, anchor="x", automargin=False),
    xaxis2=plot_axis(dom_x(BOX_SCATTER), [-10, 10], "y2", 11, "#888"),
    yaxis2=plot_axis(dom_y(BOX_SCATTER), [-10, 10], "x2", 11, "#888"),
    xaxis3=dict(domain=dom_x(BOX_TOPBAR), range=[-10, 10], anchor="y3", side="top", tickmode="array", automargin=False,
                tickvals=COLORBAR_TICKS, ticktext=COLORBAR_TEXT, ticks="outside", ticklen=3, tickcolor="#555",
                tickfont=dict(family=FONT, size=9, color="#555"), showline=True, mirror=True, linecolor="#555", linewidth=1),
    yaxis3=dict(domain=dom_y(BOX_TOPBAR), range=[0, 1], anchor="x3", visible=False, automargin=False),
    xaxis4=dict(domain=dom_x(BOX_SIDEBAR), range=[0, 1], anchor="y4", visible=False, automargin=False),
    yaxis4=dict(domain=dom_y(BOX_SIDEBAR), range=[-10, 10], anchor="x4", side="right", tickmode="array", automargin=False,
                tickvals=COLORBAR_TICKS, ticktext=COLORBAR_TEXT, ticks="outside", ticklen=3, tickcolor="#555",
                tickfont=dict(family=FONT, size=9, color="#555"), showline=True, mirror=True, linecolor="#555", linewidth=1),
    xaxis5=plot_axis(dom_x(BOX_A), [-10, 10], "y5", 9, "#888"),
    yaxis5=plot_axis(dom_y(BOX_A), [-10, 10], "x5", 9, "#888"),
    xaxis6=plot_axis(dom_x(BOX_B), [-10, 10], "y6", 8.6, "#888"),
    yaxis6=plot_axis(dom_y(BOX_B), [-10, 10], "x6", 8.6, "#888"),
    xaxis7=plot_axis(dom_x(BOX_P), [-10.14, 10.55], "y7", 9.3, "#333"),
    yaxis7=plot_axis(dom_y(BOX_P), [-10.31, 10.37], "x7", 9.3, "#333"),
)
fig.write_html("out.html", config={"displayModeBar": False}, post_script="document.body.style.margin='0';")
